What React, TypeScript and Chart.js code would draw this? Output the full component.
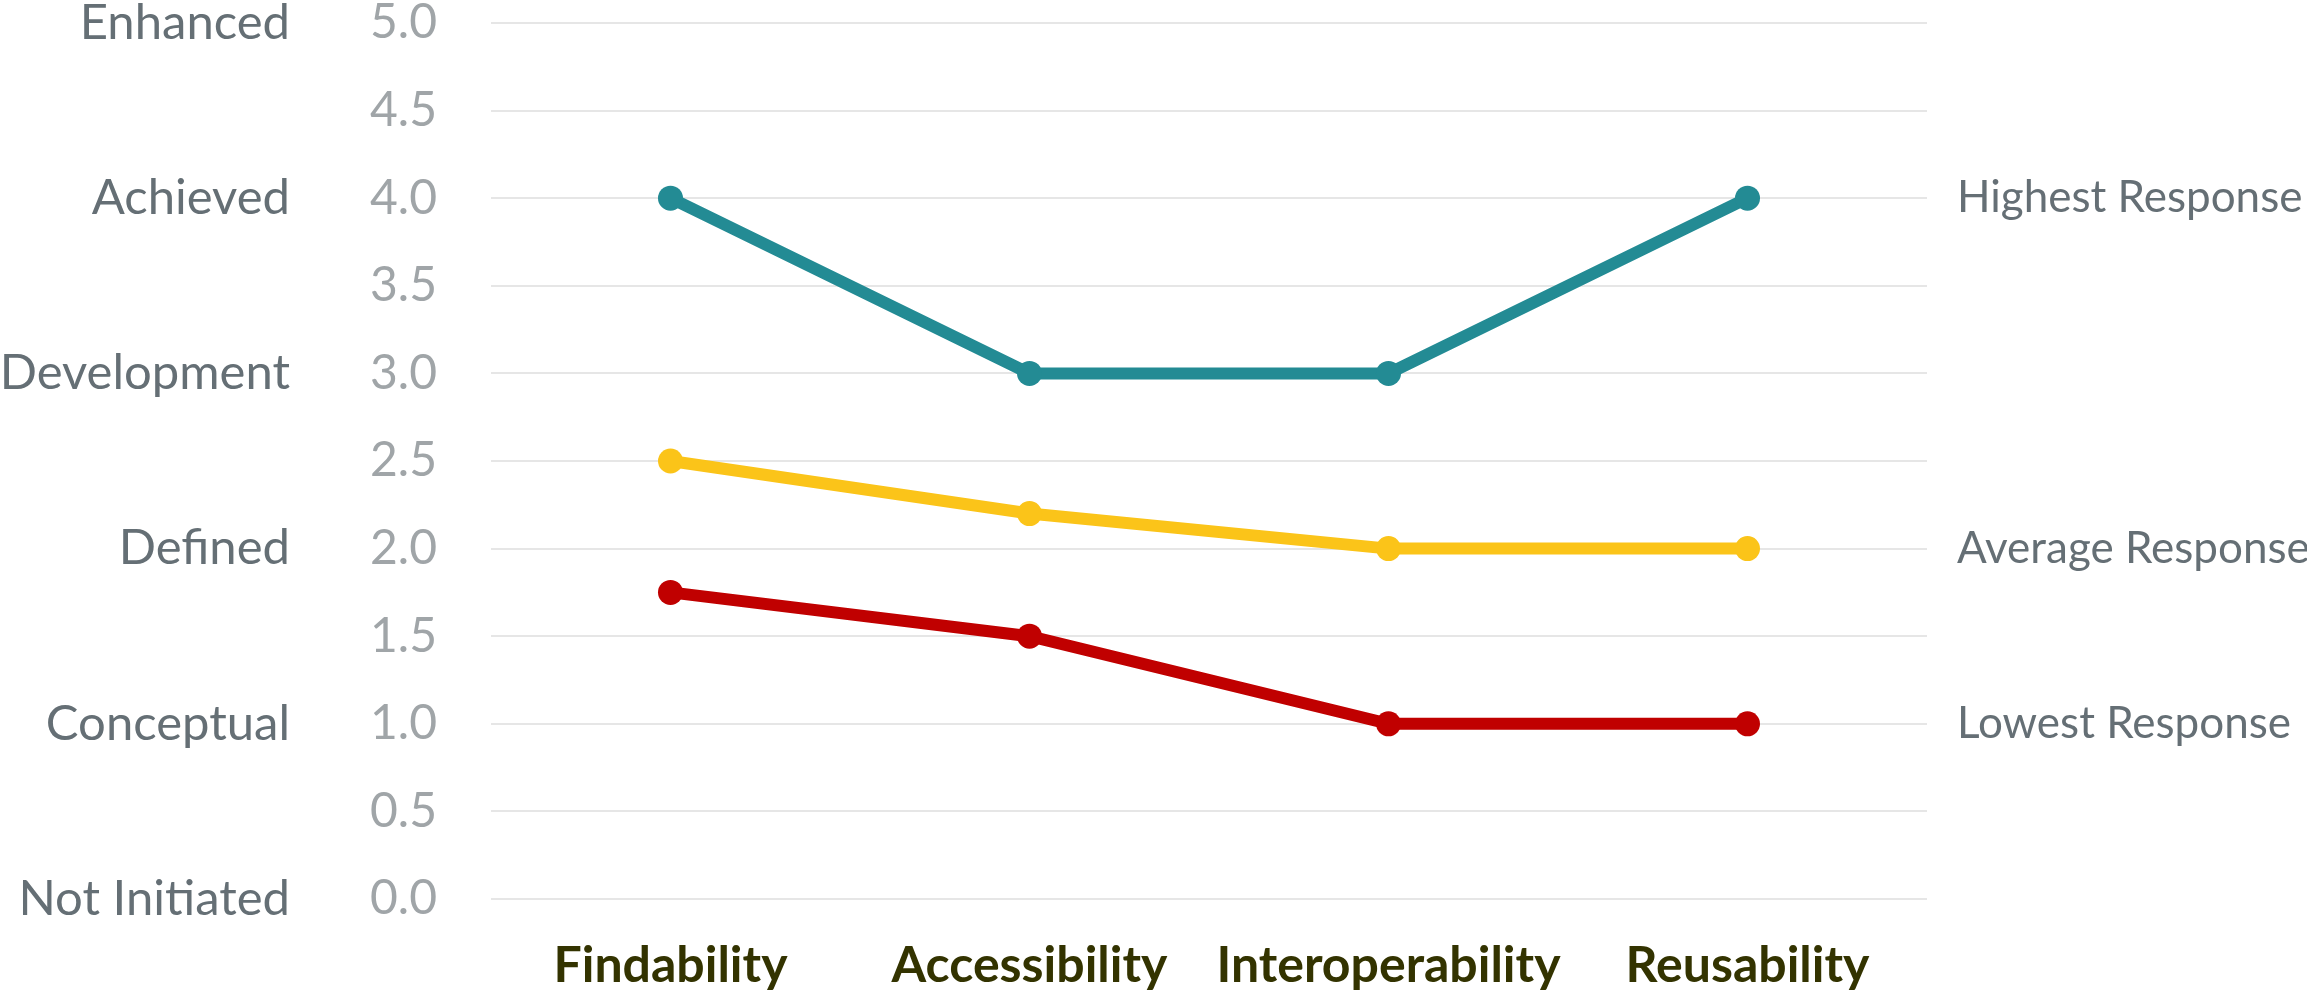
import React, { useEffect, useRef } from "react";
import { Chart, registerables } from "chart.js";

Chart.register(...registerables);

const categories = ["Findability", "Accessibility", "Interoperability", "Reusability"];
const highestResponse = [4, 3, 3, 4];
const averageResponse = [2.5, 2.2, 2.0, 2.0];
const lowestResponse = [1.75, 1.5, 1.0, 1.0];
const levelNames = ["Not Initiated", "Conceptual", "Defined", "Development", "Achieved", "Enhanced"];
const seriesNames = ["Highest Response", "Average Response", "Lowest Response"];
const seriesEndValues = [4, 2, 1];

const FONT = "Lato, 'Open Sans', sans-serif";

const noPad = (s: any) => {
  s.paddingTop = 0;
  s.paddingBottom = 0;
};

export default function App() {
  const ref = useRef<HTMLCanvasElement>(null);
  useEffect(() => {
    document.body.style.margin = "0";
    const ctx = ref.current!;
    const chart = new Chart(ctx, {
      type: "line",
      data: {
        labels: categories,
        datasets: [
          { label: seriesNames[0], data: highestResponse, borderColor: "#238b94", backgroundColor: "#238b94" },
          { label: seriesNames[1], data: averageResponse, borderColor: "#fbc419", backgroundColor: "#fbc419" },
          { label: seriesNames[2], data: lowestResponse, borderColor: "#c00000", backgroundColor: "#c00000" },
        ].map((d) => ({
          ...d,
          borderWidth: 12,
          pointRadius: 12.5,
          pointHoverRadius: 12.5,
          pointBorderWidth: 0,
          tension: 0,
          yAxisID: "y",
        })),
      },
      options: {
        animation: false,
        responsive: true,
        maintainAspectRatio: false,
        layout: { padding: { top: 23, bottom: 0, left: 0, right: 0 } },
        plugins: { legend: { display: false }, tooltip: { enabled: false } },
        scales: {
          x: {
            type: "category",
            offset: true,
            grid: { display: false, drawTicks: false },
            border: { display: false },
            ticks: {
              color: "#333300",
              font: { family: FONT, size: 50, weight: "bold" },
              padding: 37,
              maxRotation: 0,
              minRotation: 0,
              autoSkip: false,
            },
            afterFit: (s: any) => {
              s.height = 92;
              s.paddingLeft = 0;
              s.paddingRight = 0;
            },
          },
          y: {
            position: "left",
            weight: 0,
            min: 0,
            max: 5,
            grid: { color: "#e6e6e6", lineWidth: 2, drawTicks: false },
            border: { display: false },
            ticks: {
              stepSize: 0.5,
              color: "#a0a5a8",
              font: { family: FONT, size: 48 },
              padding: 54,
              callback: (v: any) => Number(v).toFixed(1),
            },
            afterFit: (s: any) => {
              s.width = 200;
              noPad(s);
            },
          },
          levels: {
            position: "left",
            weight: 1,
            min: 0,
            max: 5,
            grid: { display: false, drawTicks: false },
            border: { display: false },
            afterBuildTicks: (s: any) => {
              s.ticks = levelNames.map((_, i) => ({ value: i }));
            },
            ticks: {
              color: "#656f75",
              font: { family: FONT, size: 49 },
              padding: 1,
              autoSkip: false,
              callback: (v: any) => levelNames[Number(v)] ?? "",
            },
            afterFit: (s: any) => {
              s.width = 291;
              noPad(s);
            },
          },
          responses: {
            position: "right",
            min: 0,
            max: 5,
            grid: { display: false, drawTicks: false },
            border: { display: false },
            afterBuildTicks: (s: any) => {
              s.ticks = seriesEndValues.map((v) => ({ value: v }));
            },
            ticks: {
              color: "#656f75",
              font: { family: FONT, size: 44 },
              padding: 30,
              autoSkip: false,
              callback: (v: any) => {
                const i = seriesEndValues.indexOf(Number(v));
                return i >= 0 ? seriesNames[i] : "";
              },
            },
            afterFit: (s: any) => {
              s.width = 380;
              noPad(s);
            },
          },
        },
      } as any,
    });
    return () => chart.destroy();
  }, []);
  return (
    <div style={{ width: 2307, height: 991, position: "relative" }}>
      <canvas ref={ref} />
    </div>
  );
}
